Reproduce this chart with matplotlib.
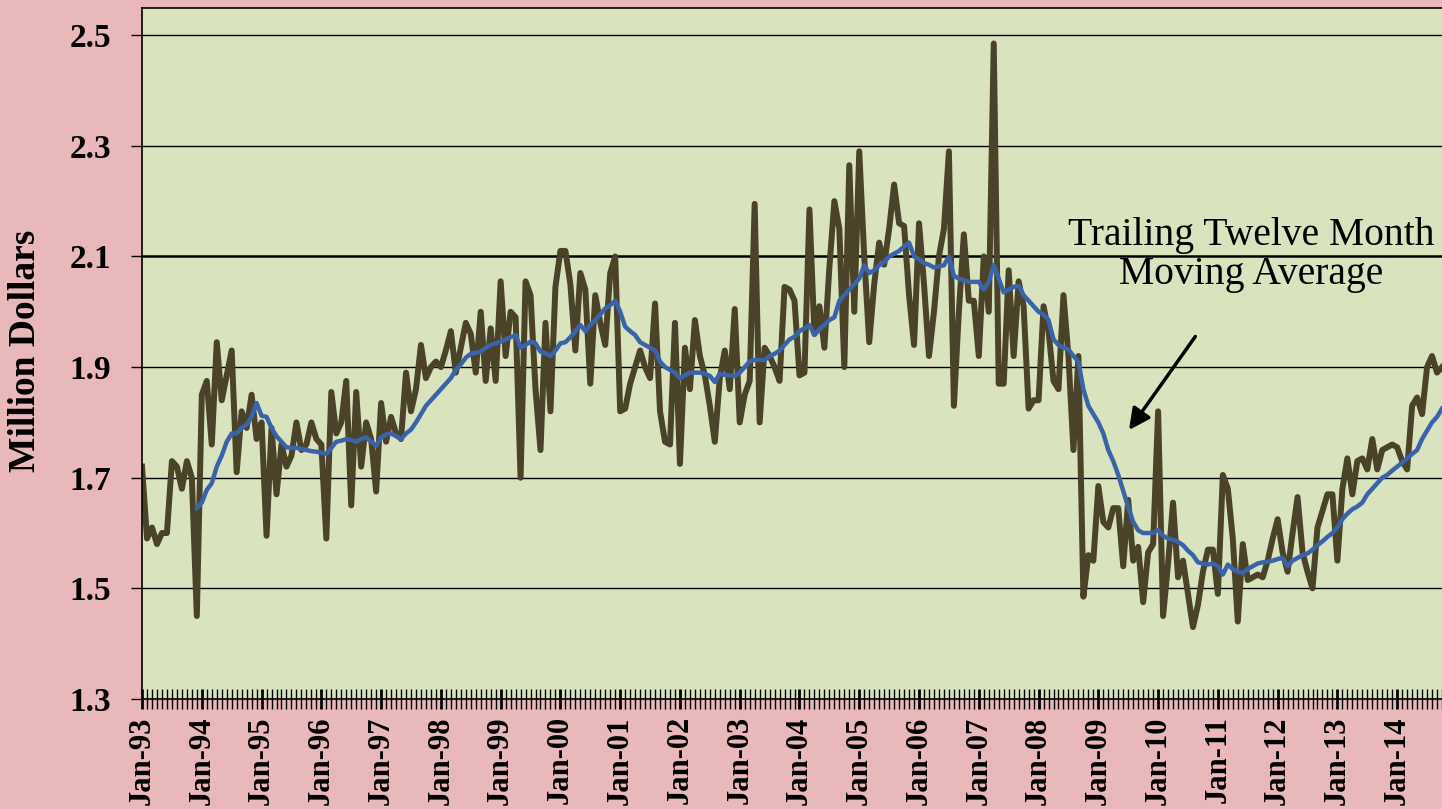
import numpy as np
import matplotlib
matplotlib.use("Agg")
import matplotlib.pyplot as plt
from matplotlib.ticker import MultipleLocator, FixedLocator

# monthly values, Jan-93 onward (million dollars)
monthly = [
    1.72, 1.59, 1.61, 1.58, 1.60, 1.60, 1.73, 1.72, 1.68, 1.73, 1.70, 1.45,
    1.85, 1.875, 1.76, 1.945, 1.84, 1.885, 1.93, 1.71, 1.82, 1.79, 1.85, 1.77,
    1.80, 1.595, 1.79, 1.67, 1.76, 1.72, 1.74, 1.80, 1.75, 1.76, 1.80, 1.77,
    1.76, 1.59, 1.855, 1.78, 1.80, 1.875, 1.65, 1.855, 1.72, 1.80, 1.77, 1.675,
    1.835, 1.765, 1.81, 1.78, 1.77, 1.89, 1.82, 1.86, 1.94, 1.88, 1.90, 1.91,
    1.90, 1.93, 1.965, 1.89, 1.935, 1.98, 1.96, 1.89, 2.00, 1.875, 1.97, 1.875,
    2.055, 1.92, 2.00, 1.99, 1.70, 2.055, 2.03, 1.86, 1.75, 1.98, 1.82, 2.045,
    2.11, 2.11, 2.05, 1.93, 2.07, 2.04, 1.87, 2.03, 1.98, 1.94, 2.07, 2.10,
    1.82, 1.825, 1.87, 1.90, 1.93, 1.90, 1.88, 2.015, 1.82, 1.765, 1.76, 1.98,
    1.725, 1.935, 1.86, 1.985, 1.92, 1.885, 1.83, 1.765, 1.88, 1.93, 1.86, 2.005,
    1.80, 1.85, 1.875, 2.195, 1.80, 1.935, 1.92, 1.90, 1.875, 2.045, 2.04, 2.02,
    1.885, 1.89, 2.185, 1.96, 2.01, 1.935, 2.08, 2.20, 2.15, 1.90, 2.265, 2.00,
    2.29, 2.10, 1.945, 2.05, 2.125, 2.085, 2.15, 2.23, 2.16, 2.155, 2.03, 1.94,
    2.16, 2.05, 1.92, 2.00, 2.10, 2.15, 2.29, 1.83, 2.00, 2.14, 2.02, 2.02,
    1.92, 2.10, 2.00, 2.485, 1.87, 1.87, 2.075, 1.92, 2.055, 2.01, 1.825, 1.84,
    1.84, 2.01, 1.965, 1.875, 1.86, 2.03, 1.92, 1.75, 1.92, 1.485, 1.56, 1.55,
    1.685, 1.62, 1.61, 1.645, 1.645, 1.54, 1.66, 1.55, 1.575, 1.475, 1.565, 1.58,
    1.82, 1.45, 1.545, 1.655, 1.52, 1.55, 1.49, 1.43, 1.47, 1.53, 1.57, 1.57,
    1.49, 1.705, 1.68, 1.59, 1.44, 1.58, 1.515, 1.52, 1.525, 1.52, 1.55, 1.59,
    1.625, 1.565, 1.53, 1.60, 1.665, 1.565, 1.53, 1.50, 1.61, 1.64, 1.67, 1.67,
    1.55, 1.68, 1.735, 1.67, 1.73, 1.735, 1.715, 1.77, 1.715, 1.75, 1.755, 1.76,
    1.755, 1.73, 1.715, 1.83, 1.845, 1.815, 1.90, 1.92, 1.89, 1.90,
]

# trailing twelve month average as drawn, starting Dec-93
ttm_start = 11
ttm = [
    1.645,
    1.655, 1.678, 1.69, 1.72, 1.74, 1.765, 1.78, 1.78, 1.79, 1.796, 1.81, 1.835,
    1.812, 1.81, 1.79, 1.775, 1.765, 1.755, 1.754, 1.754, 1.752, 1.75, 1.748, 1.747,
    1.745, 1.743, 1.754, 1.765, 1.767, 1.77, 1.768, 1.765, 1.77, 1.773, 1.765, 1.758,
    1.773, 1.778, 1.78, 1.775, 1.77, 1.78, 1.787, 1.80, 1.815, 1.83, 1.84, 1.85,
    1.86, 1.87, 1.88, 1.895, 1.905, 1.917, 1.924, 1.926, 1.928, 1.935, 1.94, 1.943,
    1.946, 1.95, 1.954, 1.958, 1.935, 1.94, 1.946, 1.943, 1.928, 1.925, 1.92, 1.93,
    1.943, 1.945, 1.954, 1.965, 1.976, 1.965, 1.976, 1.985, 1.995, 2.006, 2.012, 2.02,
    2.00, 1.973, 1.965, 1.958, 1.945, 1.94, 1.935, 1.93, 1.91, 1.90, 1.895, 1.89,
    1.88, 1.885, 1.89, 1.89, 1.89, 1.888, 1.884, 1.873, 1.888, 1.886, 1.885, 1.884,
    1.89, 1.90, 1.91, 1.913, 1.913, 1.913, 1.92, 1.924, 1.93, 1.94, 1.95, 1.955,
    1.965, 1.97, 1.976, 1.958, 1.968, 1.976, 1.985, 1.99, 2.02, 2.03, 2.04, 2.05,
    2.06, 2.084, 2.07, 2.075, 2.084, 2.09, 2.10, 2.105, 2.11, 2.118, 2.125, 2.10,
    2.095, 2.088, 2.085, 2.08, 2.082, 2.084, 2.10, 2.065, 2.06, 2.057, 2.054, 2.054,
    2.054, 2.04, 2.054, 2.085, 2.06, 2.035, 2.04, 2.045, 2.047, 2.03, 2.02, 2.01,
    2.00, 1.995, 1.985, 1.95, 1.94, 1.935, 1.932, 1.92, 1.91, 1.86, 1.83, 1.815,
    1.80, 1.78, 1.75, 1.73, 1.705, 1.676, 1.647, 1.62, 1.605, 1.60, 1.60, 1.60,
    1.606, 1.595, 1.59, 1.588, 1.584, 1.578, 1.568, 1.56, 1.547, 1.545, 1.543, 1.545,
    1.54, 1.525, 1.543, 1.535, 1.53, 1.528, 1.535, 1.54, 1.545, 1.547, 1.548, 1.55,
    1.553, 1.555, 1.54, 1.55, 1.555, 1.56, 1.563, 1.57, 1.578, 1.585, 1.593, 1.60,
    1.61, 1.625, 1.635, 1.643, 1.648, 1.655, 1.67, 1.68, 1.69, 1.70, 1.705, 1.713,
    1.72, 1.727, 1.735, 1.743, 1.75, 1.77, 1.785, 1.80, 1.81, 1.825,
]

year_labels = ["Jan-%02d" % (y % 100) for y in range(1993, 2015)]
y_ticks = [1.3, 1.5, 1.7, 1.9, 2.1, 2.3, 2.5]

BG_FIG = "#E8B8BA"
BG_AX = "#D9E4BE"
BROWN = "#4A4229"
BLUE = "#3A63AA"
SERIF = ["Liberation Serif", "DejaVu Serif"]

plt.rcParams["font.family"] = SERIF

fig = plt.figure(figsize=(14.42, 8.09), dpi=100, facecolor=BG_FIG)
ax = fig.add_axes([0.0985, 0.136, 0.9015, 0.854], facecolor=BG_AX)

# grid lines
for v in y_ticks[1:]:
    ax.axhline(v, color="black", lw=1.8 if v == 2.1 else 1.0, zorder=1)

x = np.arange(len(monthly))
ax.plot(x, monthly, color=BROWN, lw=4.3, solid_joinstyle="round", zorder=2)
x_ttm = np.arange(ttm_start, ttm_start + len(ttm))
ax.plot(x_ttm, ttm, color=BLUE, lw=3.2, solid_joinstyle="round", zorder=3)

ax.set_xlim(0, 261)
ax.set_ylim(1.3, 2.549)

ax.set_yticks(y_ticks)
ax.set_yticklabels(["%.1f" % v for v in y_ticks], fontsize=24, fontweight="bold")
ax.tick_params(axis="y", length=8, width=1, pad=14, colors="black")

jan_pos = [12 * k for k in range(len(year_labels))]
ax.xaxis.set_major_locator(FixedLocator(jan_pos))
ax.xaxis.set_minor_locator(MultipleLocator(1))
ax.set_xticklabels(year_labels, rotation=90, fontsize=22, fontweight="bold")
ax.tick_params(axis="x", which="major", direction="inout", length=15, width=2, pad=5)
ax.tick_params(axis="x", which="minor", direction="inout", length=15, width=1)

for side in ["left", "bottom", "top"]:
    ax.spines[side].set_color("black")
    ax.spines[side].set_linewidth(1.2)
ax.spines["right"].set_visible(False)

fig.text(0.018, 0.566, "Million Dollars", rotation=90, fontsize=27, fontweight="bold",
         ha="center", va="center")

ax.text(0.853, 0.643, "Trailing Twelve Month\nMoving Average", transform=ax.transAxes,
        ha="center", va="center", fontsize=28.5, linespacing=1.08)
ax.annotate("", xy=(0.758, 0.386), xycoords="axes fraction",
            xytext=(0.8115, 0.528), textcoords="axes fraction",
            arrowprops=dict(arrowstyle="-|>", color="black", lw=2.5, mutation_scale=32))

fig.savefig("out.png", dpi=100, facecolor=BG_FIG)
